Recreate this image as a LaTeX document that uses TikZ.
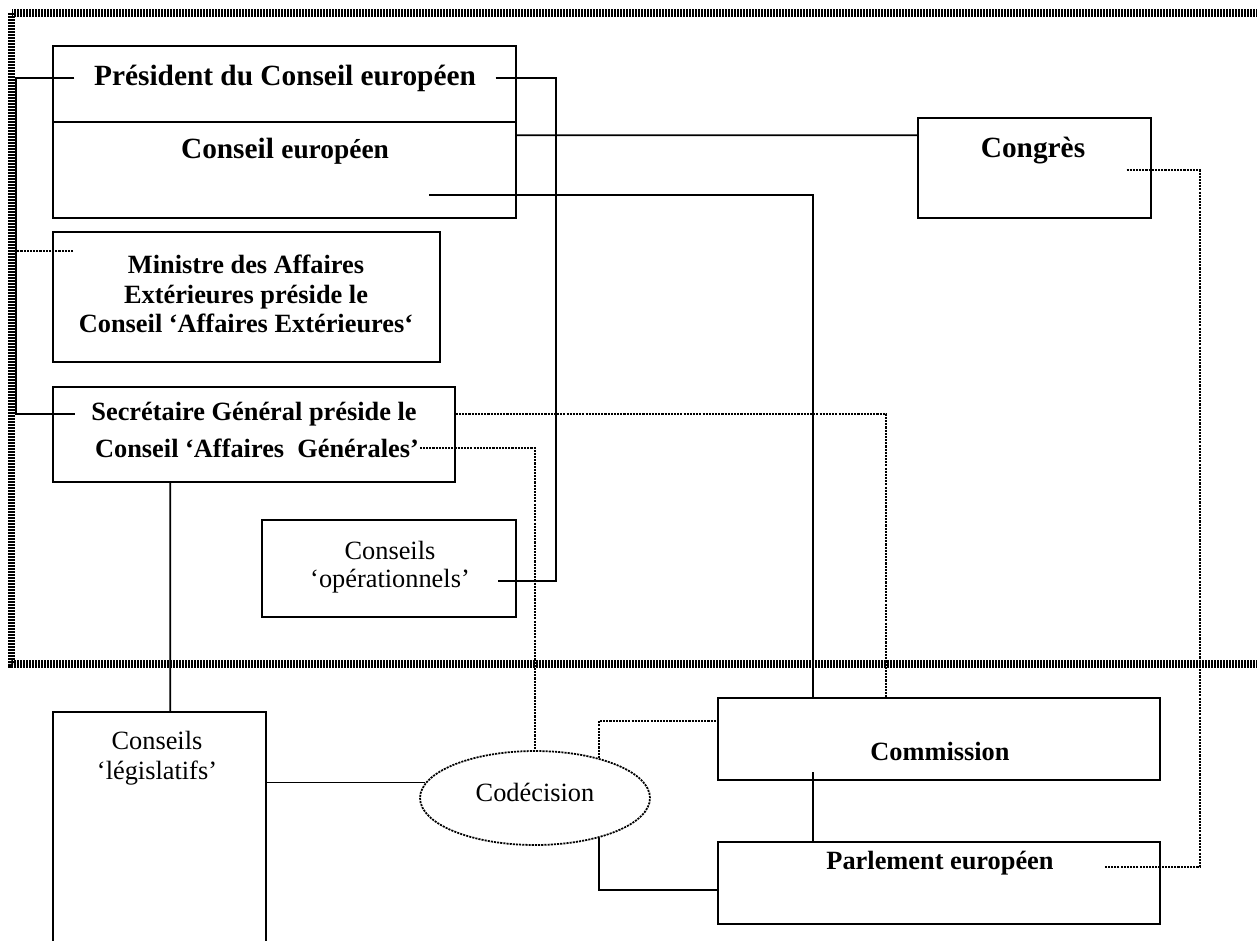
\documentclass[tikz,border=0pt]{standalone}
\usepackage{fontspec}
\setmainfont{Liberation Serif}
\usetikzlibrary{shapes.geometric,calc}

\newcommand{\grandbf}{\fontsize{16.7pt}{19pt}\selectfont\bfseries}
\newcommand{\moyenbf}{\fontsize{15pt}{17pt}\selectfont\bfseries}
\newcommand{\moyen}{\fontsize{15pt}{17pt}\selectfont}

\tikzset{
    box/.style={draw, line width=1pt, inner sep=0pt},
    txt/.style={inner sep=0pt, align=center},
    dotline/.style={line width=1pt, dash pattern=on 1.2pt off 0.6pt},
    cadre/.style={line width=4pt, dash pattern=on 0.04cm off 0.02cm},
}

\begin{document}
\begin{tikzpicture}[x=0.02cm, y=-0.02cm, line width=1pt]
        \useasboundingbox (0,0) rectangle (1257,940);
        \clip (0,0) rectangle (1257,940);

        % Cadre du Conseil
        \draw[cadre] (11.5,13) rectangle (1260,664);
        \coordinate (bus) at (16,0);

        % Boites
        \node[box, minimum width=9.26cm, minimum height=1.52cm] (pce) at (284.5,84) {};
        \node[box, minimum width=9.26cm, minimum height=1.92cm] (ce) at (284.5,170) {};
        \node[box, minimum width=4.66cm, minimum height=2cm] (congres) at (1034.5,168) {};
        \node[box, minimum width=7.74cm, minimum height=2.6cm] (mae) at (246.5,297) {};
        \node[box, minimum width=8.04cm, minimum height=1.9cm] (sg) at (254,434.5) {};
        \node[box, minimum width=5.08cm, minimum height=1.94cm] (ops) at (389,568.5) {};
        \node[box, minimum width=4.26cm, minimum height=4.76cm] (leg) at (159.5,831) {};
        \node[ellipse, draw, dotline, minimum width=4.6cm, minimum height=1.88cm, inner sep=0pt] (codec) at (535,798) {};
        \node[box, minimum width=8.84cm, minimum height=1.64cm] (comm) at (939,739) {};
        \node[box, minimum width=8.84cm, minimum height=1.64cm] (parl) at (939,883) {};

        % Textes
        \node[txt, font=\grandbf, inner xsep=0.38cm] (pcetxt) at (285,78) {Président du Conseil européen};
        \node[txt, font=\grandbf] (cetxt) at (285,151) {Conseil {\fontsize{15.6pt}{18pt}\selectfont européen}};
        \node[txt, font=\grandbf] (congtxt) at (1033,151) {Congrès};
        \node[txt, font=\moyenbf] (maetxt) at (246,294) {Ministre des Affaires\\ Extérieures préside le\\ Conseil ‘Affaires Extérieures‘};
        \node[txt, font=\moyenbf, inner xsep=0.32cm] (sg1) at (254,414) {Secrétaire Général préside le};
        \node[txt, font=\moyenbf] (sg2) at (257,448) {Conseil ‘Affaires\ \ Générales’};
        \node[txt, font=\moyen] (ops1) at (390,550) {Conseils};
        \node[txt, font=\moyen, inner xsep=0.54cm] (ops2) at (390,581) {‘opérationnels’};
        \node[txt, font=\moyen] (legtxt) at (157,758) {Conseils\\ ‘législatifs’};
        \node[txt, font=\moyen] (codectxt) at (codec.center) [yshift=0.12cm] {Codécision};
        \node[txt, font=\moyenbf] (commtxt) at (940,751) {Commission};
        \node[txt, font=\moyenbf] (parltxt) at (940,863) {Parlement européen};

        % Liens a gauche
        \draw (pcetxt.west) -- (pcetxt.west -| bus) -- (sg1.west -| bus) -- (sg1.west);
        \draw[dotline] (mae.north west) ++(21,20) -- ++(-58,0);

        % Liens du Conseil europeen
        \draw (pcetxt.east) -| ($(ops2.east)+(58,0)$) -- (ops2.east);
        \draw ($(ce.north east)+(0,14)$) -- ($(congres.north west)+(0,18)$);
        \draw ($(ce.south west)+(377,-24)$) -| ($(comm.north west)+(96,0)$);

        % Liens du Secretaire General
        \draw[dotline] (sg.east |- sg1) -| ($(comm.north west)+(169,0)$);
        \draw[dotline] (sg2.east) -| (codec.north);
        \draw ($(sg.south west)+(118,0)$) -- ($(leg.north west)+(118,0)$);

        % Codecision
        \draw (leg.east |- codec.172) -- (codec.172);
        \draw[dotline] (codec.32) |- ($(comm.north west)+(0,24)$);
        \draw (codec.-32) |- ($(parl.west)+(0,7)$);
        \draw ($(parl.north west)+(96,0)$) -- ($(comm.south west)+(96,-9)$);

        % Congres -> Parlement
        \draw[dotline] ($(congres.center)+(92,2)$) -| ($(parl.east)+(39,-16)$) -- ($(parl.east)+(-57,-16)$);
\end{tikzpicture}
\end{document}
